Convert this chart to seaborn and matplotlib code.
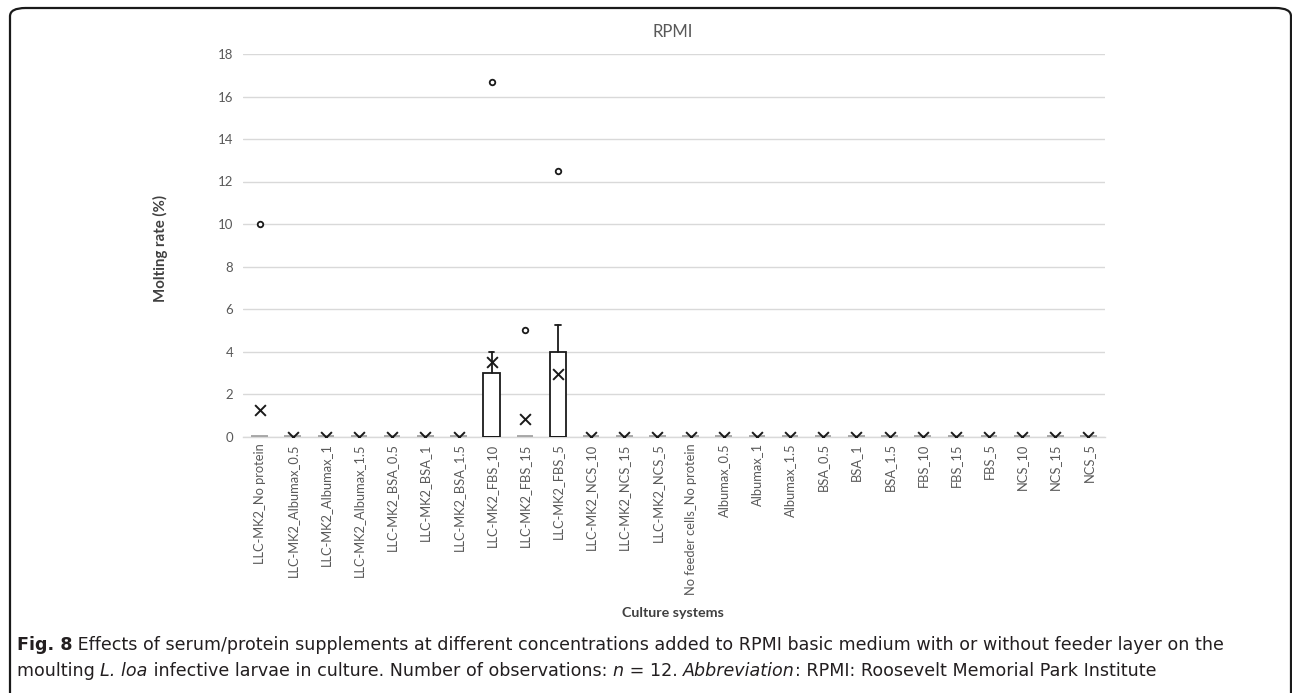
import matplotlib
matplotlib.use("Agg")
import matplotlib.pyplot as plt
from matplotlib.patches import FancyBboxPatch
import seaborn as sns
import pandas as pd
import numpy as np

# ---------------- data ----------------
categories = ["LLC-MK2_No protein", "LLC-MK2_Albumax_0.5", "LLC-MK2_Albumax_1", "LLC-MK2_Albumax_1.5",
              "LLC-MK2_BSA_0.5", "LLC-MK2_BSA_1", "LLC-MK2_BSA_1.5", "LLC-MK2_FBS_10",
              "LLC-MK2_FBS_15", "LLC-MK2_FBS_5", "LLC-MK2_NCS_10", "LLC-MK2_NCS_15",
              "LLC-MK2_NCS_5", "No feeder cells_No protein", "Albumax_0.5", "Albumax_1",
              "Albumax_1.5", "BSA_0.5", "BSA_1", "BSA_1.5", "FBS_10", "FBS_15", "FBS_5",
              "NCS_10", "NCS_15", "NCS_5"]
n_cat = len(categories)
q1 = [0.0] * n_cat
median = [0.0] * n_cat
q3 = [0, 0, 0, 0, 0, 0, 0, 3.0, 0, 4.0, 0, 0, 0, 0, 0, 0, 0, 0, 0, 0, 0, 0, 0, 0, 0, 0]
whisker_hi = [0, 0, 0, 0, 0, 0, 0, 4.0, 0, 5.25, 0, 0, 0, 0, 0, 0, 0, 0, 0, 0, 0, 0, 0, 0, 0, 0]
means = [1.25, 0, 0, 0, 0, 0, 0, 3.5, 0.83, 2.92, 0, 0, 0, 0, 0, 0, 0, 0, 0, 0, 0, 0, 0, 0, 0, 0]
outlier_cat = ["LLC-MK2_No protein", "LLC-MK2_FBS_10", "LLC-MK2_FBS_15", "LLC-MK2_FBS_5"]
outlier_val = [10.0, 16.67, 5.0, 12.5]

yticks = list(range(0, 19, 2))

# ---------------- style ----------------
sns.set_theme(style="white")
plt.rcParams["font.family"] = ["Lato", "DejaVu Sans"]

W, H = 1292, 693
fig = plt.figure(figsize=(W / 100, H / 100), dpi=100)
ax = fig.add_axes([243 / W, 1 - 436.5 / H, (1105 - 243) / W, (436.5 - 54) / H])

grid_c = "#d9d9d9"
txt_c = "#595959"

# boxes (via bxp on the axes' categorical positions)
stats_black, pos_black, stats_gray, pos_gray = [], [], [], []
for i, c in enumerate(categories):
    s = dict(med=median[i], q1=q1[i], q3=q3[i], whislo=q1[i], whishi=whisker_hi[i],
             fliers=[], label=c)
    if q3[i] > q1[i]:
        stats_black.append(s); pos_black.append(i)
    else:
        stats_gray.append(s); pos_gray.append(i)

ax.bxp(stats_gray, positions=pos_gray, widths=0.5, showfliers=False, patch_artist=True,
       boxprops=dict(facecolor="none", edgecolor="#a8a8a8", linewidth=2.6),
       medianprops=dict(color="#a8a8a8", linewidth=2.6),
       whiskerprops=dict(color="none"), capprops=dict(color="none"), zorder=3)
ax.bxp(stats_black, positions=pos_black, widths=0.5, showfliers=False, patch_artist=True,
       boxprops=dict(facecolor="white", edgecolor="#1a1a1a", linewidth=1.3),
       medianprops=dict(color="#1a1a1a", linewidth=1.3),
       whiskerprops=dict(color="#1a1a1a", linewidth=1.3),
       capprops=dict(color="#1a1a1a", linewidth=1.3), capwidths=0.16, zorder=3)

# means and outliers through seaborn
df_mean = pd.DataFrame({"pos": np.arange(n_cat), "mean": means})
sns.scatterplot(data=df_mean, x="pos", y="mean", marker="x", s=60, color="#1a1a1a",
                linewidth=1.4, ax=ax, zorder=5, legend=False)
df_out = pd.DataFrame({"pos": [categories.index(c) for c in outlier_cat], "val": outlier_val})
sns.scatterplot(data=df_out, x="pos", y="val", marker="o", s=16, facecolor="white",
                edgecolor="#1a1a1a", linewidth=1.3, ax=ax, zorder=5, legend=False)

ax.set_xlim(-0.5, n_cat - 0.5)
ax.set_ylim(0, 18)
ax.set_yticks(yticks)
ax.set_yticklabels([str(t) for t in yticks], fontsize=9.5, color=txt_c)
ax.set_xticks(range(n_cat))
ax.set_xticklabels(categories, rotation=90, fontsize=9.3, color=txt_c)
ax.tick_params(axis="both", length=0, pad=5)
ax.tick_params(axis="y", pad=7)
ax.grid(axis="y", color=grid_c, linewidth=1.0)
ax.set_axisbelow(True)
for sp in ["left", "right", "top"]:
    ax.spines[sp].set_visible(False)
ax.spines["bottom"].set_color(grid_c)
ax.spines["bottom"].set_linewidth(1.0)
ax.set_xlabel("")
ax.set_ylabel("")

# titles and axis labels
fig.text(673 / W, 1 - 32 / H, "RPMI", ha="center", va="center", fontsize=12, color=txt_c)
fig.text(160 / W, 1 - 249 / H, "Molting rate (%)", ha="center", va="center", rotation=90,
         fontsize=10.8, fontweight="bold", color="#404040")
fig.text(673 / W, 1 - 613 / H, "Culture systems", ha="center", va="center",
         fontsize=10.3, fontweight="bold", color="#404040")

# rounded frame
frame = FancyBboxPatch((10 / W, -20 / H), (1291 - 10) / W, (693 - 8 + 20) / H,
                       boxstyle="round,pad=0,rounding_size=0.012", transform=fig.transFigure,
                       facecolor="none", edgecolor="#1a1a1a", linewidth=1.6, zorder=0)
fig.patches.append(frame)

# caption with mixed styles
cap_font = ["Liberation Sans Narrow", "DejaVu Sans"]
cap_size = 12.65
cap_c = "#231f20"
lines = [
    [("Fig. 8", "bold", "normal"),
     (" Effects of serum/protein supplements at different concentrations added to RPMI basic medium with or without feeder layer on the", "normal", "normal")],
    [("moulting ", "normal", "normal"), ("L. loa", "normal", "italic"),
     (" infective larvae in culture. Number of observations: ", "normal", "normal"),
     ("n", "normal", "italic"), (" = 12. ", "normal", "normal"),
     ("Abbreviation", "normal", "italic"), (": RPMI: Roosevelt Memorial Park Institute", "normal", "normal")],
]
line_y = [645, 671]
fig.canvas.draw()
renderer = fig.canvas.get_renderer()
for pieces, yy in zip(lines, line_y):
    x = 17
    for txt, wt, st in pieces:
        t = fig.text(x / W, 1 - yy / H, txt, ha="left", va="center", fontsize=cap_size,
                     fontweight=wt, fontstyle=st, family=cap_font, color=cap_c)
        bb = t.get_window_extent(renderer=renderer)
        x += bb.width

fig.savefig("out.png", dpi=100)
